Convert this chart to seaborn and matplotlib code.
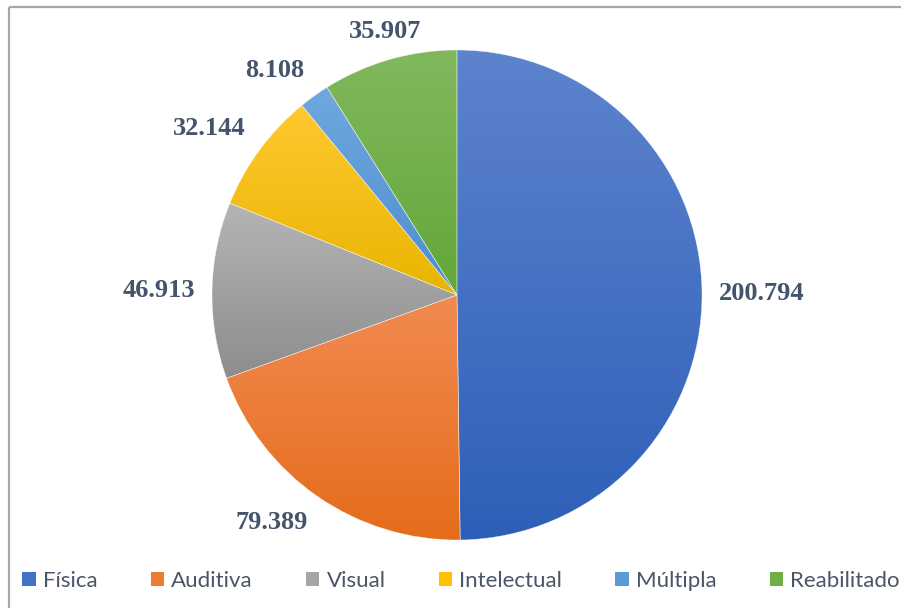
import numpy as np
import matplotlib
matplotlib.use("Agg")
import matplotlib.pyplot as plt
import matplotlib.colors as mcolors
from matplotlib.lines import Line2D
from matplotlib.patches import Patch
import seaborn as sns

# Pessoas com deficiência por tipo
categories = ["Física", "Auditiva", "Visual", "Intelectual", "Múltipla", "Reabilitado"]
values = [200794, 79389, 46913, 32144, 8108, 35907]
palette = ["#4472C4", "#ED7D31", "#A5A5A5", "#FFC000", "#5B9BD5", "#70AD47"]
# gradient end colours for each slice (top -> bottom)
tops = ["#5D83CD", "#F18A51", "#B5B5B5", "#FFC830", "#70A8DE", "#81B85D"]
bottoms = ["#2E5FB8", "#E56C1A", "#8D8D8D", "#E9B500", "#4C8ECF", "#62A738"]

sns.set_theme(style="white")
plt.rcParams["font.family"] = ["DejaVu Sans"]

W, H = 901, 608
fig = plt.figure(figsize=(W / 100, H / 100), dpi=100)
fig.patch.set_facecolor("white")

# pie axes: centre (457, 295) px, radius 245 px
cx, cy, R = 457, 295, 245
ax = fig.add_axes([(cx - R) / W, (H - cy - R) / H, 2 * R / W, 2 * R / H])
ax.set_axis_off()

colors = sns.color_palette(palette)
wedges, _ = ax.pie(values, startangle=90, counterclock=False, colors=colors,
                   wedgeprops=dict(edgecolor=(1, 1, 1, 0.6), linewidth=0.4))

# vertical gradient in each slice: lighter at the top, darker at the bottom
for w, top, bot in zip(wedges, tops, bottoms):
    t = np.radians(np.linspace(w.theta1, w.theta2, 200))
    xs = np.concatenate([[0], w.r * np.cos(t)])
    ys = np.concatenate([[0], w.r * np.sin(t)])
    top, bot = np.array(mcolors.to_rgb(top)), np.array(mcolors.to_rgb(bot))
    f = np.linspace(0, 1, 256)[:, None]
    grad = (top[None, :] * (1 - f) + bot[None, :] * f)[:, None, :]
    im = ax.imshow(grad, extent=[xs.min(), xs.max(), ys.min(), ys.max()],
                   origin="upper", aspect="auto", zorder=0.5, interpolation="bilinear")
    im.set_clip_path(w)
    w.set_facecolor("none")
    w.set_zorder(1)

ax.set_xlim(-1, 1)
ax.set_ylim(-1, 1)

# value labels just outside each slice
for w, v in zip(wedges, values):
    ang = np.radians((w.theta1 + w.theta2) / 2)
    ca, sa = np.cos(ang), np.sin(ang)
    ha = "left" if ca > 0.3 else ("right" if ca < -0.3 else "center")
    va = "bottom" if sa > 0.3 else ("top" if sa < -0.3 else "center")
    ax.text(1.07 * ca, 1.07 * sa, f"{v:,}".replace(",", "."), ha=ha, va=va,
            fontsize=19, fontweight="bold", color="#44546A",
            family=["Liberation Serif", "DejaVu Serif"], clip_on=False)

# legend along the bottom
handles = [Patch(facecolor=c, edgecolor="none") for c in colors]
fig.legend(handles, categories, loc="center", bbox_to_anchor=(461 / W, 1 - 581 / H),
           ncol=6, frameon=False, handlelength=0.6, handleheight=0.6,
           handletextpad=0.32, columnspacing=2.4, labelcolor="#4A5568",
           prop={"family": ["Lato", "DejaVu Sans"], "size": 16})

# chart frame
fc = "#A6A6A6"
fig.add_artist(Line2D([8.5 / W, 1], [1 - 6.5 / H, 1 - 6.5 / H], transform=fig.transFigure,
                      color=fc, lw=1.6, solid_capstyle="butt"))
fig.add_artist(Line2D([8.5 / W, 8.5 / W], [0, 1 - 6.5 / H], transform=fig.transFigure,
                      color=fc, lw=1.6, solid_capstyle="butt"))

fig.savefig("out.png", dpi=100, facecolor="white")
